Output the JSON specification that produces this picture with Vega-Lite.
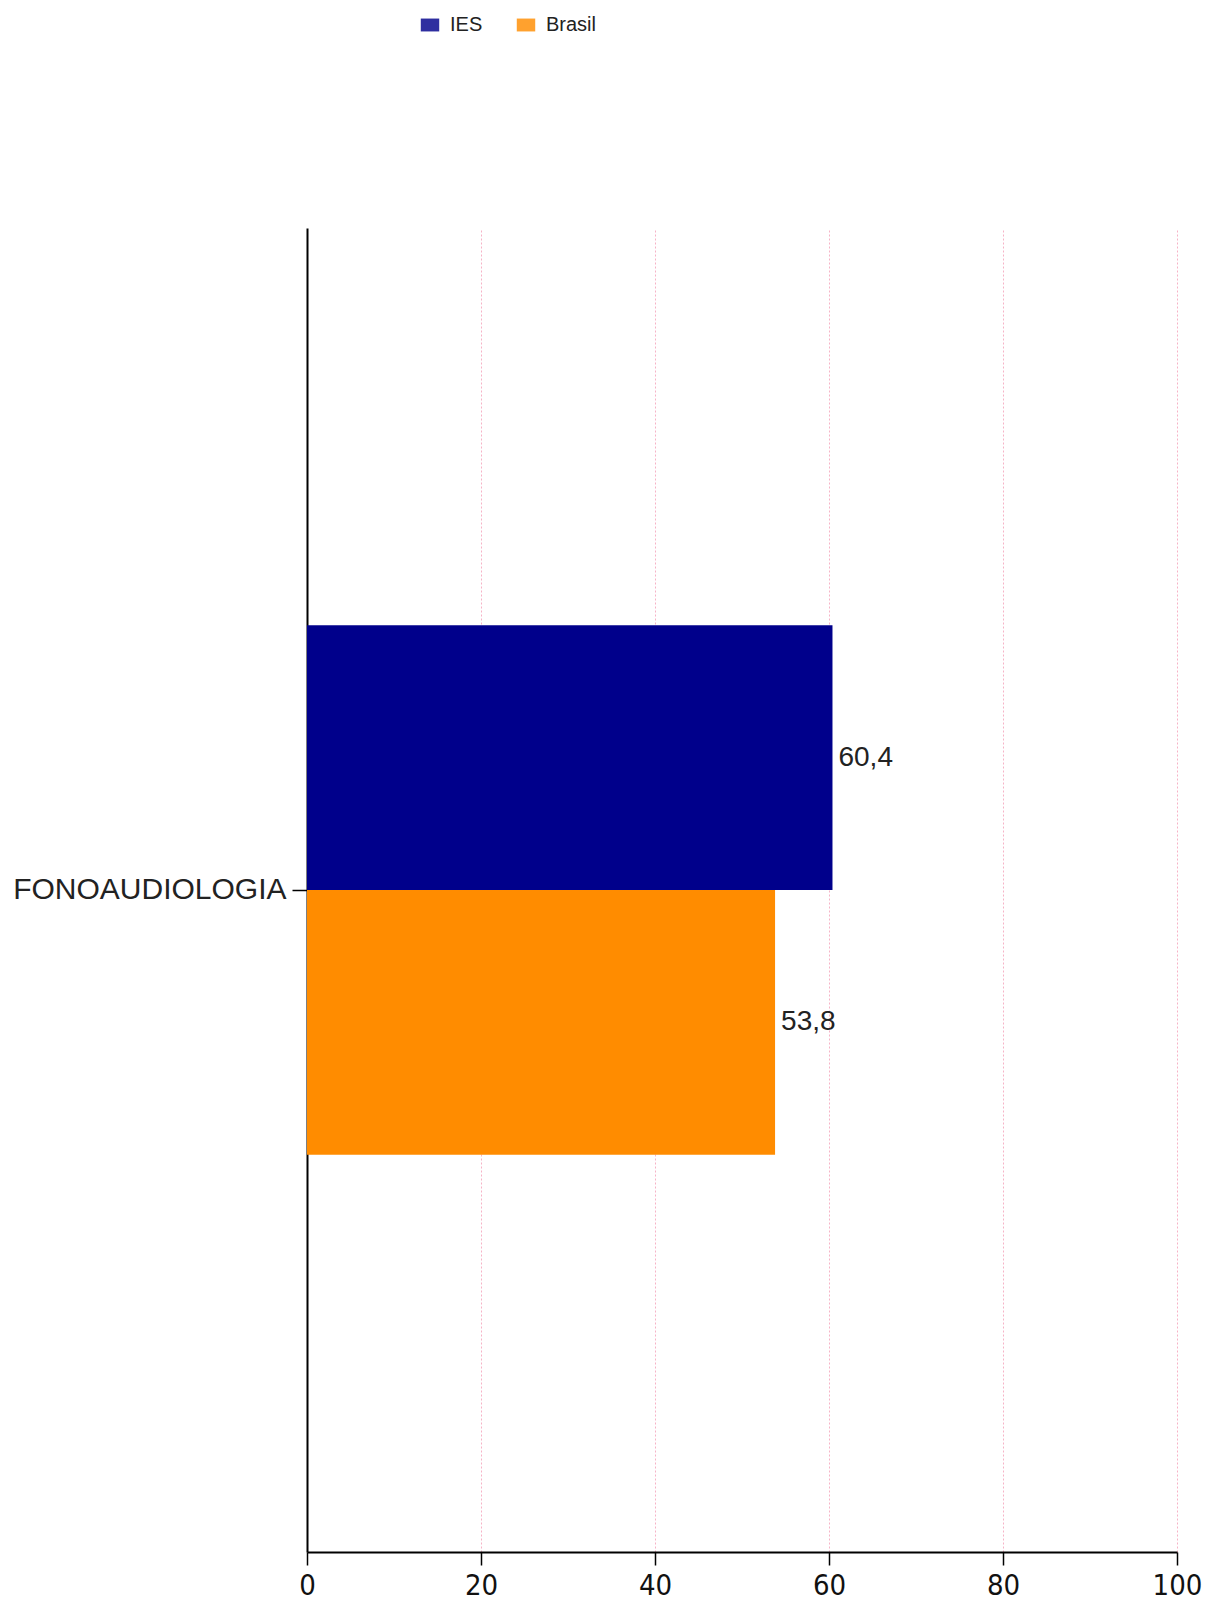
{
  "$schema": "https://vega.github.io/schema/vega-lite/v6.json",
  "width": 870,
  "height": 1324,
  "autosize": {"type": "none"},
  "padding": {"left": 307, "top": 228, "right": 28, "bottom": 53},
  "background": "white",
  "config": {
    "view": {"stroke": null},
    "locale": {"number": {"decimal": ",", "thousands": ".", "grouping": [3], "currency": ["R$", ""]}},
    "font": "Liberation Sans"
  },
  "data": {
    "values": [
      {"curso": "FONOAUDIOLOGIA", "serie": "IES", "valor": 60.4},
      {"curso": "FONOAUDIOLOGIA", "serie": "Brasil", "valor": 53.8}
    ]
  },
  "encoding": {
    "y": {
      "field": "curso",
      "type": "nominal",
      "title": null,
      "scale": {"paddingInner": 0, "paddingOuter": 0.75},
      "axis": {
        "domainColor": "black",
        "domainWidth": 2,
        "tickColor": "black",
        "tickWidth": 1.5,
        "tickSize": 15,
        "labelPadding": 6,
        "labelFont": "Liberation Sans",
        "labelFontSize": 30,
        "labelColor": "#222222",
        "labelLimit": 400
      }
    },
    "yOffset": {
      "field": "serie",
      "type": "nominal",
      "sort": ["IES", "Brasil"],
      "scale": {"paddingInner": 0, "paddingOuter": 0}
    },
    "x": {
      "field": "valor",
      "type": "quantitative",
      "title": null,
      "scale": {"domain": [0, 100], "nice": false},
      "axis": {
        "values": [0, 20, 40, 60, 80, 100],
        "domainColor": "black",
        "domainWidth": 2,
        "tickColor": "black",
        "tickWidth": 1.5,
        "tickSize": 13,
        "labelPadding": 6,
        "labelFont": "DejaVu Sans Condensed, Liberation Sans",
        "labelFontSize": 29,
        "labelColor": "#111111",
        "labelFlush": false,
        "grid": true,
        "gridColor": "#f6b3c6",
        "gridDash": [2, 2],
        "gridWidth": 1
      }
    }
  },
  "layer": [
    {
      "mark": {"type": "bar"},
      "encoding": {
        "color": {
          "field": "serie",
          "type": "nominal",
          "sort": ["IES", "Brasil"],
          "scale": {"domain": ["IES", "Brasil"], "range": ["#00008B", "#FF8C00"]},
          "legend": {
            "title": null,
            "orient": "none",
            "direction": "horizontal",
            "legendX": 113,
            "legendY": -213,
            "padding": 0,
            "symbolType": "M-1,-0.7H1V0.7H-1Z",
            "symbolSize": 340,
            "symbolOpacity": 0.82,
            "symbolStrokeWidth": 0,
            "labelFont": "Liberation Sans",
            "labelFontSize": 20,
            "labelColor": "#222222",
            "labelOffset": 10,
            "columnPadding": 33
          }
        }
      }
    },
    {
      "mark": {"type": "text", "align": "left", "baseline": "middle", "dx": 6, "fontSize": 28, "font": "Liberation Sans", "color": "#222222"},
      "encoding": {
        "text": {"field": "valor", "type": "quantitative", "format": ".1f"}
      }
    }
  ]
}
